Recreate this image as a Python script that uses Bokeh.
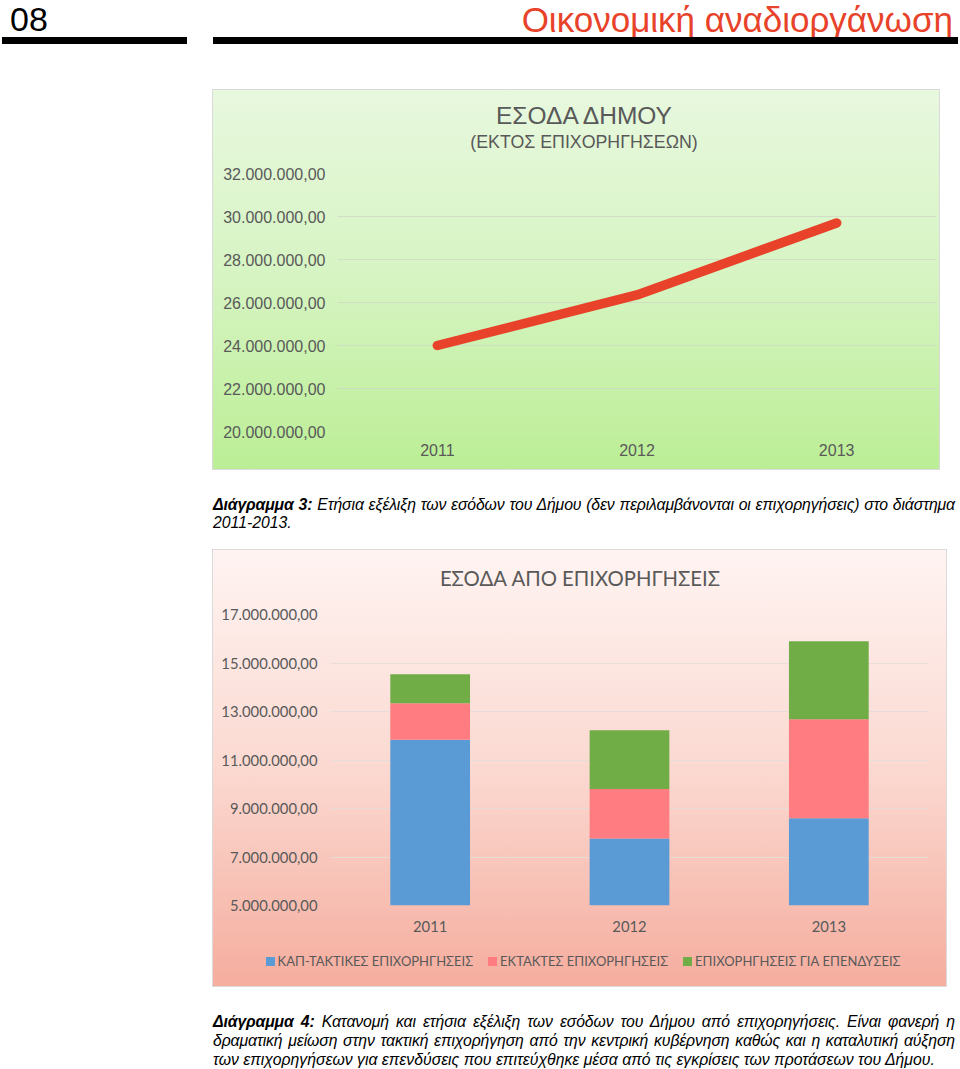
from bokeh.plotting import figure
from bokeh.models import (FactorRange, Range1d, FixedTicker, CustomJSTickFormatter,
                          ColumnDataSource, Div, Spacer)
from bokeh.layouts import column, row
from bokeh.embed import file_html
from bokeh.resources import INLINE

# ---------------- data ----------------
years = ["2011", "2012", "2013"]
revenue = [24.0e6, 26.35e6, 29.7e6]            # ΕΣΟΔΑ ΔΗΜΟΥ (ΕΚΤΟΣ ΕΠΙΧΟΡΗΓΗΣΕΩΝ)
rev_ticks = [20e6, 22e6, 24e6, 26e6, 28e6, 30e6, 32e6]

kap = [11.83e6, 7.76e6, 8.60e6]                # ΚΑΠ-ΤΑΚΤΙΚΕΣ ΕΠΙΧΟΡΗΓΗΣΕΙΣ
ektaktes = [1.51e6, 2.04e6, 4.08e6]            # ΕΚΤΑΚΤΕΣ ΕΠΙΧΟΡΗΓΗΣΕΙΣ
ependyseis = [1.20e6, 2.43e6, 3.22e6]          # ΕΠΙΧΟΡΗΓΗΣΕΙΣ ΓΙΑ ΕΠΕΝΔΥΣΕΙΣ
grant_ticks = [5e6, 7e6, 9e6, 11e6, 13e6, 15e6, 17e6]
series_names = ["ΚΑΠ-ΤΑΚΤΙΚΕΣ ΕΠΙΧΟΡΗΓΗΣΕΙΣ", "ΕΚΤΑΚΤΕΣ ΕΠΙΧΟΡΗΓΗΣΕΙΣ", "ΕΠΙΧΟΡΗΓΗΣΕΙΣ ΓΙΑ ΕΠΕΝΔΥΣΕΙΣ"]
series_colors = ["#5b9bd5", "#ff7c80", "#70ad47"]

GREY = "#595959"
ARIAL = "Liberation Sans"
CAL = "Lato"

fmt_code = r"""
const s = Math.round(tick).toString().replace(/\B(?=(\d{3})+(?!\d))/g, ".");
return s + ",00";
"""

# ---------------- header ----------------
header_html = f"""
<div style="position:relative;width:960px;height:89px;font-family:'{ARIAL}',Arial,sans-serif;">
  <div style="position:absolute;left:10px;top:0px;font-size:34px;line-height:normal;color:#000;">08</div>
  <div style="position:absolute;right:7px;top:0px;font-size:35px;line-height:normal;color:#e8432a;white-space:nowrap;">Οικονομική αναδιοργάνωση</div>
  <div style="position:absolute;left:2px;top:37px;width:185px;height:7px;background:#000;"></div>
  <div style="position:absolute;left:213px;top:37px;width:745px;height:7px;background:#000;"></div>
</div>
"""
header = Div(text=header_html, width=960, height=89, margin=0)


def style_axes(p, font, size):
    for ax in (p.xaxis[0], p.yaxis[0]):
        ax.axis_line_color = None
        ax.major_tick_line_color = None
        ax.minor_tick_line_color = None
        ax.major_tick_out = 0
        ax.major_tick_in = 0
        ax.major_label_text_font = font
        ax.major_label_text_font_size = size
        ax.major_label_text_color = GREY


def clear_bg(p):
    p.background_fill_alpha = 0
    p.border_fill_alpha = 0
    p.outline_line_color = None


# ---------------- chart 1 ----------------
title1 = Div(text=f"""
<div style="position:relative;width:728px;height:70px;font-family:'{ARIAL}',Arial,sans-serif;color:{GREY};">
  <div style="position:absolute;left:0;top:13px;width:744px;text-align:center;font-size:24.5px;line-height:28px;white-space:nowrap;">ΕΣΟΔΑ ΔΗΜΟΥ</div>
  <div style="position:absolute;left:0;top:43px;width:744px;text-align:center;font-size:17.8px;line-height:20px;white-space:nowrap;">(ΕΚΤΟΣ ΕΠΙΧΟΡΗΓΗΣΕΩΝ)</div>
</div>""", width=728, height=70, margin=0)

p1 = figure(width=728, height=311, x_range=FactorRange(*years), y_range=Range1d(20e6, 32e6),
            output_backend="svg", toolbar_location=None, title=None,
            min_border_left=125, min_border_right=4, min_border_top=14, min_border_bottom=39)
clear_bg(p1)
p1.line(x=years, y=revenue, line_color="#e8432a", line_width=9.5, line_cap="round", line_join="round")
p1.yaxis.ticker = FixedTicker(ticks=rev_ticks)
p1.yaxis.formatter = CustomJSTickFormatter(code=fmt_code)
style_axes(p1, ARIAL, "16px")
p1.yaxis.major_label_standoff = 12
p1.xaxis.major_label_standoff = 12
p1.xgrid.grid_line_color = None
p1.ygrid.ticker = FixedTicker(ticks=rev_ticks)
p1.ygrid.grid_line_color = "#cfd8c8"
p1.ygrid.grid_line_alpha = 0.8

box1 = column(title1, p1, spacing=0, width=728, height=381,
              styles={"background": "linear-gradient(to bottom, #e8f8df 0%, #d6f4c2 50%, #bbee95 100%)",
                      "box-shadow": "inset 0 0 0 1px #dadada"})

# ---------------- caption 3 ----------------
cap_font = f"font-family:'{ARIAL}',Arial,sans-serif;font-style:italic;font-size:15.8px;color:#000;"
just = "text-align:justify;text-align-last:justify;white-space:nowrap;letter-spacing:-0.12px;"
cap3_html = f"""
<div style="{cap_font}line-height:18px;padding-top:26px;width:742px;">
<div style="{just}"><b>Διάγραμμα 3:</b> Ετήσια εξέλιξη των εσόδων του Δήμου (δεν περιλαμβάνονται οι επιχορηγήσεις) στο διάστημα</div>
<div>2011-2013.</div>
</div>
"""
cap3 = Div(text=cap3_html, width=742, height=79, margin=0)

# ---------------- chart 2 ----------------
title2 = Div(text=f"""
<div style="position:relative;width:735px;height:50px;font-family:'{CAL}',sans-serif;color:{GREY};">
  <div style="position:absolute;left:0;top:17px;width:736px;text-align:center;font-size:20.3px;line-height:24px;white-space:nowrap;">ΕΣΟΔΑ ΑΠΟ ΕΠΙΧΟΡΗΓΗΣΕΙΣ</div>
</div>""", width=735, height=50, margin=0)

src = ColumnDataSource(dict(years=years, kap=kap, ektaktes=ektaktes, ependyseis=ependyseis))
p2 = figure(width=735, height=348, x_range=FactorRange(*years), y_range=Range1d(5e6, 17e6),
            output_backend="svg", toolbar_location=None, title=None,
            min_border_left=118, min_border_right=19, min_border_top=15, min_border_bottom=42)
clear_bg(p2)
p2.xgrid.grid_line_color = None
p2.ygrid.ticker = FixedTicker(ticks=grant_ticks)
p2.ygrid.grid_line_color = "#e6dcd9"
p2.ygrid.grid_line_alpha = 0.9
p2.vbar_stack(["kap", "ektaktes", "ependyseis"], x="years", width=0.4, source=src,
              fill_color=series_colors, line_color=None)
p2.yaxis.ticker = FixedTicker(ticks=grant_ticks)
p2.yaxis.formatter = CustomJSTickFormatter(code=fmt_code)
style_axes(p2, CAL, "14.8px")
p2.yaxis.major_label_standoff = 13
p2.xaxis.major_label_standoff = 15

# legend strip built from the series names / colours
items_html = "".join(
    f'<div style="display:flex;align-items:center;white-space:nowrap;">'
    f'<span style="display:inline-block;width:9px;height:9px;background:{c};margin-right:3px;"></span>{n}</div>'
    for n, c in zip(series_names, series_colors)
)
leg = Div(text=f"""
<div style="position:relative;width:735px;height:40px;font-family:'{CAL}',sans-serif;font-size:13px;color:{GREY};">
  <div style="position:absolute;left:0;top:7px;width:742px;height:14px;line-height:14px;display:flex;justify-content:center;column-gap:15px;">{items_html}</div>
</div>""", width=735, height=40, margin=0)

box2 = column(title2, p2, leg, spacing=0, width=735, height=438,
              styles={"background": "linear-gradient(to bottom, #fff4f2 0%, #fbd9d1 50%, #f5ad9e 100%)",
                      "box-shadow": "inset 0 0 0 1px #dadada"})

# ---------------- caption 4 ----------------
cap4_html = f"""
<div style="{cap_font}line-height:19px;padding-top:25px;width:742px;">
<div style="{just}"><b>Διάγραμμα 4:</b> Κατανομή και ετήσια εξέλιξη των εσόδων του Δήμου από επιχορηγήσεις. Είναι φανερή η</div>
<div style="{just}">δραματική μείωση στην τακτική επιχορήγηση από την κεντρική κυβέρνηση καθώς και η καταλυτική αύξηση</div>
<div>των επιχορηγήσεων για επενδύσεις που επιτεύχθηκε μέσα από τις εγκρίσεις των προτάσεων του Δήμου.</div>
</div>
"""
cap4 = Div(text=cap4_html, width=742, height=82, margin=0)

layout = column(
    header,
    row(Spacer(width=212, height=381, margin=0), box1, spacing=0),
    row(Spacer(width=213, height=79, margin=0), cap3, spacing=0),
    row(Spacer(width=212, height=438, margin=0), box2, spacing=0),
    row(Spacer(width=213, height=82, margin=0), cap4, spacing=0),
    spacing=0,
)

open("out.html", "w").write(file_html(layout, INLINE, title="Οικονομική αναδιοργάνωση"))
